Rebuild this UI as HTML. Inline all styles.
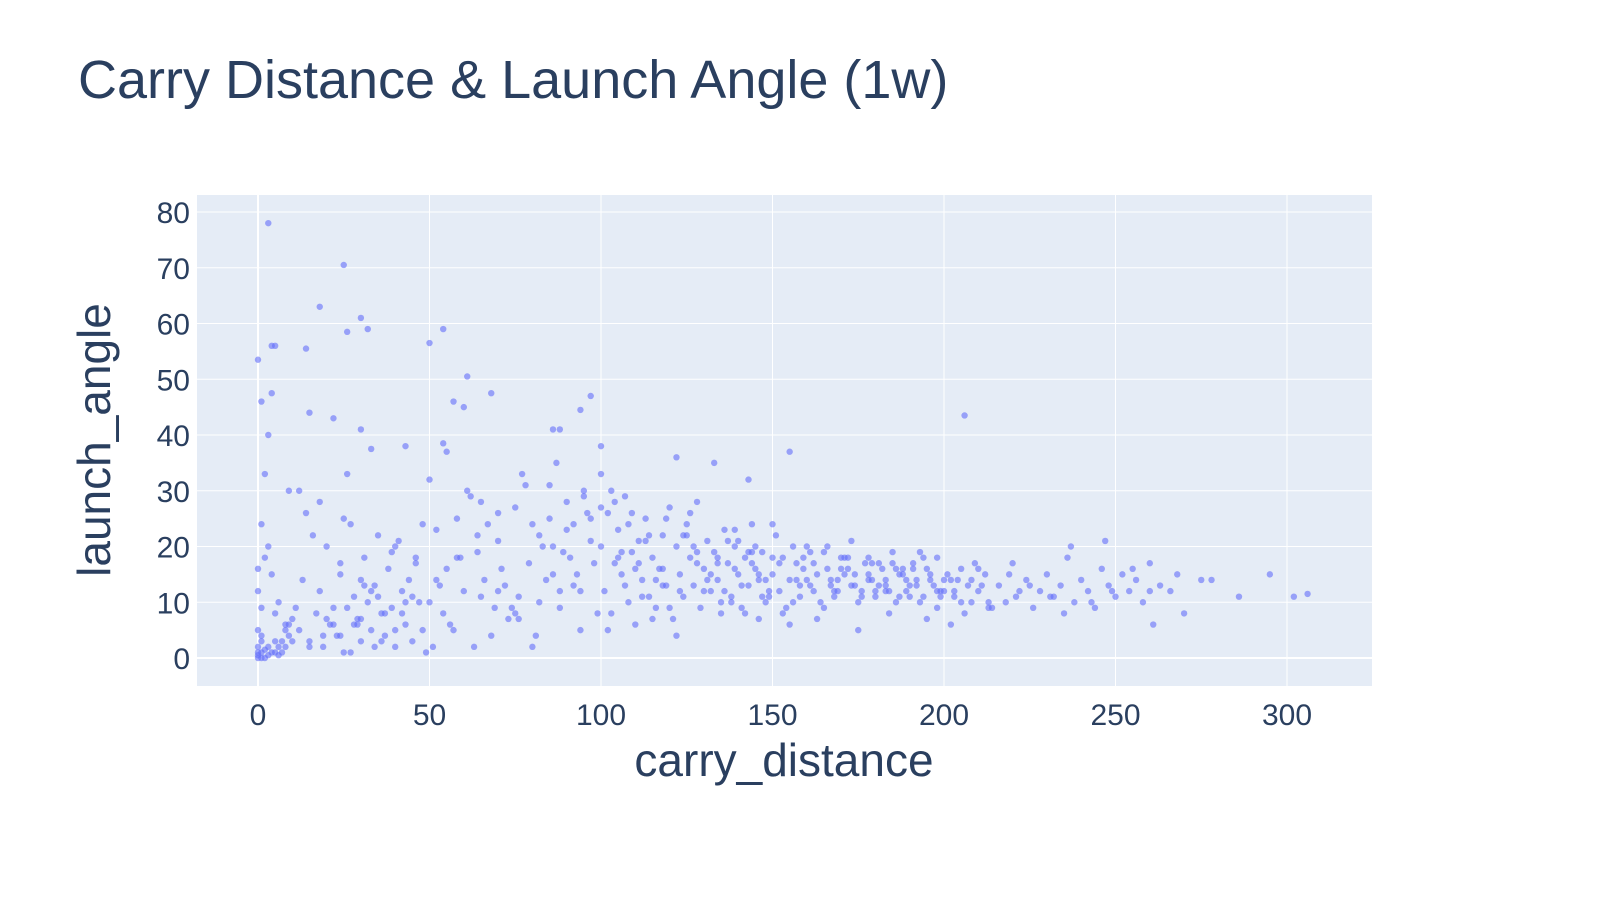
<!DOCTYPE html>
<html><head><meta charset="utf-8"><style>
body{margin:0;background:#fff;font-family:"Liberation Sans",sans-serif}
</style></head><body>
<svg width="1600" height="900" xmlns="http://www.w3.org/2000/svg" font-family="Liberation Sans, sans-serif" fill="#2a3f5f">
<text x="78" y="98" font-size="54">Carry Distance &amp; Launch Angle (1w)</text>
<rect x="197" y="195" width="1175" height="491" fill="#E5ECF6"/>
<g id="grid"></g><g id="pts"></g><g id="ticks"></g>
<text x="784" y="776" font-size="46" text-anchor="middle">carry_distance</text>
<text transform="translate(110,440) rotate(-90)" font-size="46" text-anchor="middle">launch_angle</text>
</svg>
<script>
const xTicks=[0,50,100,150,200,250,300];
const yTicks=[0,10,20,30,40,50,60,70,80];
const carryA=[0,0,0,0,1,1,1,2,2,3,3,4,5,5,6,6,7,7,8,8,9,9,10,10,0,0,1,2,3,4,0,1,2,5,6,8,3,4,9,1];
const launchA=[0,1,2,0.5,0,1,3,0,1.5,0.5,2,1,1,3,2,0.5,1,3,2,5,6,4,7,3,12,16,24,18,20,15,5,9,33,8,10,6,40,56,30,4];
const carryB=[12,14,15,17,18,19,20,22,23,24,25,26,27,28,29,30,31,32,33,34,35,36,37,38,39,40,41,42,43,44,45,46,47,48,49,12,15,18,21,24,27,30,33,36,39,42,45,48,13,16,19,22,25,28,31,34,37,40,43,46,11,20,30,40,24,26,29,35];
const launchB=[5,26,3,8,12,2,20,6,4,15,1,9,24,11,7,3,18,10,5,13,22,8,4,16,9,2,21,12,6,14,3,17,10,24,1,30,2,28,6,17,1,7,12,3,19,8,11,5,14,22,4,9,25,6,13,2,8,5,10,18,9,7,14,20,4,33,6,11];
const carryC=[50,52,54,55,57,58,60,61,63,64,66,67,69,70,72,73,75,76,78,79,81,82,84,85,87,88,90,91,93,94,96,97,99,51,53,56,59,62,65,68,71,74,77,80,83,86,89,92,95,98,50,55,60,65,70,75,80,85,90,95,100,52,58,64,70,76,82,88,94];
const launchC=[10,23,8,16,5,25,12,30,2,19,14,24,9,21,13,7,27,11,31,17,4,22,14,25,35,9,28,18,15,12,26,21,8,2,13,6,18,29,11,4,16,9,33,2,20,15,19,24,29,17,32,37,45,28,12,8,24,31,23,30,27,14,18,22,26,7,10,12,5];
const carryD=[100,101,102,103,104,105,106,107,108,109,110,111,112,113,114,115,116,117,118,119,120,121,122,123,124,125,126,127,128,129,130,131,132,133,134,135,136,137,138,139,140,141,142,143,144,145,146,147,148,149,100,104,108,112,116,120,124,128,132,136,140,144,148,102,106,110,114,118,122,126,130,134,138,142,146,150,103,107,111,115,119,123,127,131,135,139,143,147];
const launchD=[20,12,26,8,17,23,15,29,10,19,6,21,14,25,11,18,9,16,22,13,27,7,20,15,11,24,18,13,28,9,16,21,12,19,14,8,23,17,11,20,15,9,18,13,24,16,7,19,14,12,33,28,24,11,14,9,22,17,15,12,21,17,10,5,19,16,22,13,4,26,12,18,10,8,14,18,30,13,17,7,25,12,20,14,10,16,19,11];
const carryE=[150,152,153,155,156,158,159,161,162,164,165,167,168,170,171,173,174,176,177,179,180,182,183,185,186,188,189,191,192,194,195,197,198,200,201,203,204,206,207,209,210,212,213,151,154,157,160,163,166,169,172,175,178,181,184,187,190,193,196,199,202,205,208,211,214,150,155,160,165,170,175,180,185,190,195,200,205,210,153,158,163,168,173,178,183,188,193,198,203,208,213];
const launchE=[15,12,18,14,20,11,16,13,17,10,19,14,12,16,18,13,15,11,17,14,12,16,13,19,10,15,12,17,14,11,16,13,9,12,15,11,14,8,13,17,12,15,10,22,9,17,14,7,20,12,16,10,18,13,8,15,11,19,14,12,6,16,10,13,9,24,6,20,9,18,5,11,17,13,7,14,10,16,8,13,15,11,21,14,12,16,10,18,12,14,9,13];
const carryF=[134,137,141,144,146,149,152,157,159,162,166,169,172,174,178,181,184,186,189,192,196,199,202,156,161,167,171,176,179,183,187,191,194,198,139,145,128,125,118,113,109,105,97,92,86];
const launchF=[17,21,13,19,15,11,17,14,18,12,16,14,18,13,15,17,12,16,14,13,15,11,14,10,19,13,15,12,17,14,11,16,18,12,23,20,19,22,16,21,26,18,25,13,20];
const carryG=[216,218,220,222,224,226,228,230,232,234,236,238,240,242,244,246,248,250,252,254,256,258,260,263,266,268,270,275,278,286,295,302,306,219,225,231,237,243,249,255,261,221,235,247,260];
const launchG=[13,10,17,12,14,9,12,15,11,13,18,10,14,12,9,16,13,11,15,12,14,10,17,13,12,15,8,14,14,11,15,11,11.5,15,13,11,20,10,12,16,6,11,8,21,12];
const carryH=[3,25,18,30,26,32,54,50,14,5,0,61,1,4,57,68,97,94,206,15,22,30,54,43,33,86,88,100,155,122,133,143];
const launchH=[78,70.5,63,61,58.5,59,59,56.5,55.5,56,53.5,50.5,46,47.5,46,47.5,47,44.5,43.5,44,43,41,38.5,38,37.5,41,41,38,37,36,35,32];
const X=v=>258+v*3.43, Y=v=>658-v*5.575;
const NS='http://www.w3.org/2000/svg';
const grid=document.getElementById('grid'),tk=document.getElementById('ticks'),pg=document.getElementById('pts');
function mk(tag,attrs,parent){const e=document.createElementNS(NS,tag);for(const k in attrs)e.setAttribute(k,attrs[k]);parent.appendChild(e);return e;}
xTicks.forEach(t=>{
 const l=mk('line',{x1:X(t),x2:X(t),y1:195,y2:686,stroke:'#fff','stroke-width':t===0?2:1},grid);
 
 
 const s=mk('text',{x:X(t),y:725,'font-size':30,'text-anchor':'middle'},tk);s.textContent=t;
 
 
});
yTicks.forEach(t=>{
 const l=mk('line',{x1:197,x2:1372,y1:Y(t),y2:Y(t),stroke:'#fff','stroke-width':t===0?2:1},grid);
 
 
 const s=mk('text',{x:190,y:Y(t)+11,'font-size':30,'text-anchor':'end'},tk);s.textContent=t;
 
 
});
[[carryA,launchA],[carryB,launchB],[carryC,launchC],[carryD,launchD],[carryE,launchE],[carryF,launchF],[carryG,launchG],[carryH,launchH]].forEach(([cx,ly])=>{
 const n=Math.min(cx.length,ly.length);
 for(let i=0;i<n;i++){
  const c=mk('circle',{cx:X(cx[i]),cy:Y(ly[i]),r:3.2,fill:'#636efa','fill-opacity':0.6},pg);
  
  
 }
});
</script>
</body></html>
